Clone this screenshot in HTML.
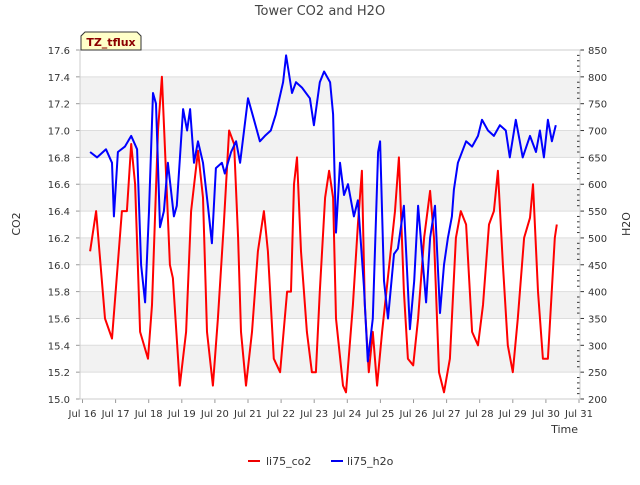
<!DOCTYPE html>
<html><head><meta charset="utf-8"><style>
body{margin:0;background:#fff;font-family:"Liberation Sans","DejaVu Sans",sans-serif}
svg text{font-family:"DejaVu Sans","Liberation Sans",sans-serif}
</style></head><body>
<svg id="c" width="640" height="480" xmlns="http://www.w3.org/2000/svg">
<rect width="640" height="480" fill="#fff"/>
<text x="320" y="15" text-anchor="middle" font-size="13" fill="#444">Tower CO2 and H2O</text>
<g id="grid"></g>
<g id="axes"></g>
<g id="series"></g>
<g>
<path d="M81,50 L81,36 L85,32 L137,32 L141,36 L141,50 Z" fill="#ffffc8" stroke="#333" stroke-width="1"/>
<text x="111" y="46" text-anchor="middle" font-size="11" font-weight="bold" fill="#8b0000">TZ_tflux</text>
</g>
<text x="20" y="224" transform="rotate(-90 20 224)" text-anchor="middle" font-size="11" fill="#333">CO2</text>
<text x="630" y="224" transform="rotate(-90 630 224)" text-anchor="middle" font-size="11" fill="#333">H2O</text>
<text x="578" y="433" text-anchor="end" font-size="11" fill="#333">Time</text>
<g>
<g><line x1="248" y1="461" x2="260" y2="461" stroke="#e00" stroke-width="2"/><text x="266" y="465" font-size="11" fill="#333">li75_co2</text></g>
<g><line x1="331" y1="461" x2="343" y2="461" stroke="#00e" stroke-width="2"/><text x="347" y="465" font-size="11" fill="#333">li75_h2o</text></g>
</g>
</svg>
<script>
const co2T=[16.23,16.41,16.68,16.89,17.19,17.34,17.47,17.59,17.74,17.98,18.10,18.28,18.40,18.64,18.73,18.94,19.13,19.28,19.49,19.64,19.76,19.94,20.09,20.27,20.43,20.58,20.70,20.79,20.94,21.12,21.30,21.48,21.60,21.78,21.97,22.18,22.30,22.39,22.48,22.60,22.78,22.93,23.05,23.17,23.33,23.45,23.57,23.66,23.87,23.96,24.17,24.32,24.44,24.53,24.65,24.77,24.90,25.05,25.44,25.56,25.71,25.83,25.99,26.14,26.32,26.50,26.62,26.77,26.92,27.10,27.28,27.43,27.59,27.77,27.95,28.10,28.28,28.43,28.55,28.70,28.85,29.00,29.15,29.34,29.52,29.61,29.76,29.91,30.06,30.27,30.33];
const co2V=[16.1,16.4,15.6,15.45,16.4,16.4,16.9,16.6,15.5,15.3,15.7,17.0,17.4,16.0,15.9,15.1,15.5,16.4,16.85,16.5,15.5,15.1,15.6,16.3,17.0,16.9,16.2,15.5,15.1,15.5,16.1,16.4,16.1,15.3,15.2,15.8,15.8,16.6,16.8,16.1,15.5,15.2,15.2,15.8,16.5,16.7,16.5,15.6,15.1,15.05,15.7,16.3,16.7,15.7,15.2,15.5,15.1,15.5,16.4,16.8,15.8,15.3,15.25,15.6,16.2,16.55,16.2,15.2,15.05,15.3,16.2,16.4,16.3,15.5,15.4,15.7,16.3,16.4,16.7,16.0,15.4,15.2,15.6,16.2,16.35,16.6,15.8,15.3,15.3,16.2,16.3];
const h2oT=[16.23,16.44,16.71,16.89,16.95,17.07,17.28,17.47,17.65,17.77,17.89,18.01,18.13,18.22,18.34,18.46,18.58,18.76,18.85,19.04,19.16,19.25,19.37,19.49,19.64,19.79,19.91,20.03,20.21,20.30,20.49,20.64,20.76,21.00,21.18,21.36,21.51,21.69,21.84,22.06,22.15,22.33,22.45,22.63,22.87,22.99,23.17,23.30,23.48,23.57,23.66,23.78,23.90,24.02,24.20,24.32,24.50,24.62,24.77,24.93,24.99,25.11,25.23,25.41,25.53,25.71,25.89,26.02,26.14,26.26,26.38,26.50,26.65,26.80,26.92,27.04,27.16,27.22,27.34,27.59,27.77,27.95,28.07,28.25,28.43,28.61,28.79,28.91,29.09,29.21,29.30,29.52,29.70,29.82,29.94,30.06,30.18,30.30];
const h2oV=[660,650,665,640,540,660,670,690,665,450,380,550,770,750,520,550,640,540,560,740,700,740,640,680,640,560,490,630,640,620,660,680,640,760,720,680,690,700,730,790,840,770,790,780,760,710,790,810,790,730,510,640,580,600,540,570,410,270,350,660,680,420,350,470,480,560,330,420,560,470,380,500,560,360,450,500,540,590,640,680,670,690,720,700,690,710,700,650,720,680,650,690,660,700,650,720,680,710];
const yTicks=["15.0","15.2","15.4","15.6","15.8","16.0","16.2","16.4","16.6","16.8","17.0","17.2","17.4","17.6"];
const y2Ticks=[200,250,300,350,400,450,500,550,600,650,700,750,800,850];
const xDays=[16,17,18,19,20,21,22,23,24,25,26,27,28,29,30,31];
const L=80,R=580,T=50,B=399;
const X=d=>82.5+(d-16)*33.1;
const Y=v=>B-(v-15)/2.6*(B-T);
const Y2=v=>B-(v-200)/650*(B-T);
const NS="http://www.w3.org/2000/svg";
function mk(p,tag,a){const e=document.createElementNS(NS,tag);for(const k in a)e.setAttribute(k,a[k]);p.appendChild(e);return e;}
const grid=document.getElementById('grid'),axes=document.getElementById('axes'),ser=document.getElementById('series');
mk(grid,'rect',{x:L,y:T,width:R-L,height:B-T,fill:'#fff'});
for(let i=0;i<yTicks.length-1;i++){const v=parseFloat(yTicks[i]);
 if(i%2===1){const b=mk(grid,'rect',{x:L,y:Y(v+0.2),width:R-L,height:Y(v)-Y(v+0.2),fill:'#f2f2f2'});
 
 }}
yTicks.forEach(t=>{const v=parseFloat(t);const y=Y(v);
 const g=mk(grid,'line',{x1:L,x2:R,y1:y,y2:y,stroke:'#ddd','stroke-width':1});
 
 
 mk(axes,'line',{x1:L-4,x2:L,y1:y,y2:y,stroke:'#999'});
 const tx=mk(axes,'text',{x:L-10,y:y+4,'text-anchor':'end','font-size':'10',fill:'#333'});tx.textContent=t;
 
 });
y2Ticks.forEach((v,i)=>{const y=Y2(v);
 mk(axes,'line',{x1:R,x2:R+4,y1:y,y2:y,stroke:'#333'});
 const tx=mk(axes,'text',{x:R+8,y:y+4,'font-size':'10',fill:'#333'});tx.textContent=v;
 
 
 if(i<y2Ticks.length-1)for(let k=1;k<5;k++){const yy=Y2(v+k*10);mk(axes,'line',{x1:R-3,x2:R,y1:yy,y2:yy,stroke:'#333'});}});
xDays.forEach(d=>{const x=X(d);
 mk(axes,'line',{x1:x,x2:x,y1:B,y2:B+4,stroke:'#999'});
 const tx=mk(axes,'text',{x:x,y:B+18,'text-anchor':'middle','font-size':'10',fill:'#333'});tx.textContent='Jul '+d;
 
 });
mk(axes,'rect',{x:L,y:T,width:R-L,height:B-T,fill:'none',stroke:'#ccc'});
function line(ts,vs,sy,col,name){const d=ts.map((t,i)=>(i?'L':'M')+X(t).toFixed(1)+','+sy(vs[i]).toFixed(1)).join('');
 const p=mk(ser,'path',{d:d,fill:'none',stroke:col,'stroke-width':2,'stroke-linejoin':'round'});
 
 }
line(co2T,co2V,Y,'#ff0000','co2-line');
line(h2oT,h2oV,Y2,'#0000ff','h2o-line');
</script>
</body></html>
